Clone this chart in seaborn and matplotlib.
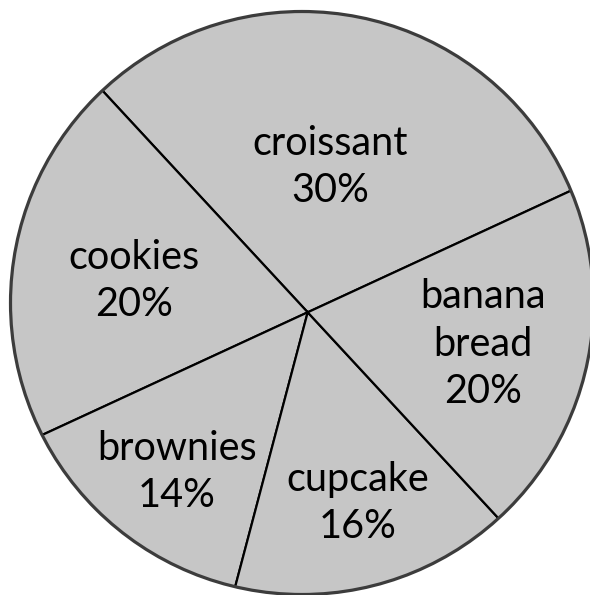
import matplotlib
matplotlib.use("Agg")
import matplotlib.pyplot as plt
from matplotlib.patches import Circle
import seaborn as sns

# data
categories = ["croissant", "cookies", "brownies", "cupcake", "banana\nbread"]
shares = [30, 20, 14, 16, 20]
label_text = [f"{c}\n{v}%" for c, v in zip(categories, shares)]

sns.set_style("white")
plt.rcParams['font.family'] = ['Lato', 'DejaVu Sans']

W, H = 590, 595
fig = plt.figure(figsize=(W / 100, H / 100), dpi=100)
ax = fig.add_axes([0, 0, 1, 1])

fill = "#c6c6c6"
hub = (307.7, H - 312.3)
wedges, _ = ax.pie(shares, center=hub, radius=330, startangle=24.8,
                   counterclock=True,
                   colors=[fill] * len(shares),
                   wedgeprops=dict(edgecolor="black", linewidth=1.6))

outline = Circle((302, H - 303), 291.5, facecolor="none",
                 edgecolor="#3c3c3c", linewidth=2.3, zorder=5)
ax.add_patch(outline)
for w in wedges:
    w.set_clip_on(True)
    w.set_clip_path(outline)

label_pos = [(330, 167), (134, 281), (177, 472), (358, 503), (483, 344)]
for (x, y), t in zip(label_pos, label_text):
    ax.text(x, H - y, t, ha="center", va="center", fontsize=28.5,
            linespacing=1.36, color="black", zorder=6)

ax.set_xlim(0, W)
ax.set_ylim(0, H)
ax.set_aspect("equal")
ax.axis("off")
fig.savefig("out.png", dpi=100, facecolor="white")
